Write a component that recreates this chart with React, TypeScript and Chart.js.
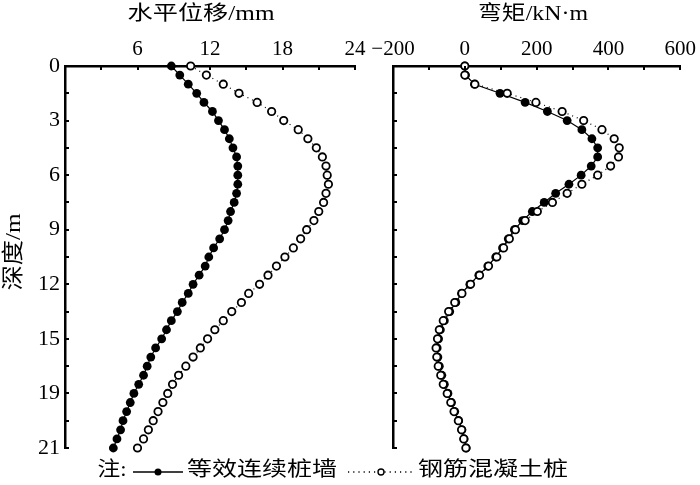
import React, { useEffect, useRef } from 'react';
import { Chart, registerables } from 'chart.js';
Chart.register(...registerables);

// ---------- data ----------
const depths = [0, 0.5, 1, 1.5, 2, 2.5, 3, 3.5, 4, 4.5, 5, 5.5, 6, 6.5, 7, 7.5, 8, 8.5, 9, 9.5, 10, 10.5, 11, 11.5, 12, 12.5, 13, 13.5, 14, 14.5, 15, 15.5, 16, 16.5, 17, 17.5, 18, 18.5, 19, 19.5, 20, 20.5, 21];

// 水平位移 (mm)
const dispWall = [8.8, 9.5, 10.2, 10.9, 11.5, 12.2, 12.7, 13.2, 13.6, 13.9, 14.2, 14.3, 14.3, 14.3, 14.2, 14.0, 13.7, 13.5, 13.2, 12.8, 12.3, 11.9, 11.6, 11.1, 10.6, 10.2, 9.7, 9.3, 8.8, 8.4, 8.0, 7.5, 7.1, 6.8, 6.5, 6.1, 5.7, 5.4, 5.1, 4.8, 4.6, 4.3, 4.0];
const dispPile = [10.4, 11.7, 13.1, 14.4, 15.9, 17.1, 18.1, 19.3, 20.1, 20.8, 21.3, 21.6, 21.7, 21.8, 21.6, 21.4, 21.0, 20.6, 20.0, 19.5, 18.9, 18.2, 17.5, 16.8, 16.1, 15.2, 14.6, 13.8, 13.1, 12.4, 11.8, 11.2, 10.6, 10.0, 9.4, 8.9, 8.5, 8.1, 7.7, 7.3, 6.9, 6.5, 6.0];

// 弯矩 (kN·m)
const momentWall = [0, 2, 27, 98, 168, 230, 285, 326, 354, 370, 370, 352, 324, 290, 253, 221, 188, 161, 138, 121, 105, 86, 64, 39, 14, -9, -25, -42, -57, -68, -73, -77, -75, -71, -64, -57, -47, -37, -28, -17, -8, -2, 4];
const momentPile = [0, 0, 28, 118, 198, 271, 331, 382, 416, 430, 428, 406, 370, 326, 285, 244, 202, 168, 141, 124, 108, 89, 66, 41, 16, -8, -28, -45, -60, -71, -76, -80, -78, -74, -67, -60, -49, -39, -30, -18, -9, -3, 3];

// ticks / labels
const depthTickValues = [0, 3, 6, 9, 12, 15, 18, 21];
const depthTickLabels = ['0', '3', '6', '9', '12', '15', '19', '21'];
const depthTickMarks = [1.5, 3, 4.5, 6, 7.5, 9, 10.5, 12, 13.5, 15, 16.5, 18, 19.5, 21];
const dispTickValues = [0, 6, 12, 18, 24];
const dispTickLabels = ['', '6', '12', '18', '24'];
const dispTickMarks = [3, 6, 9, 12, 15, 18, 21, 24];
const momentTickValues = [-200, 0, 200, 400, 600];
const momentTickLabels = ['\u2212200', '0', '200', '400', '600'];
const momentTickMarks = [-100, 0, 100, 200, 300, 400, 500, 600];

const dispTitle = '水平位移/mm';
const momentTitle = '弯矩/kN·m';
const depthTitle = '深度/m';
const noteText = '注:';
const seriesWall = '等效连续桩墙';
const seriesPile = '钢筋混凝土桩';

// ---------- helpers ----------
const FONT = "'Liberation Serif', 'Noto Sans CJK SC', serif";

function stretchedText(ctx: CanvasRenderingContext2D, text: string, cx: number, cy: number, width: number, size: number, rotate = false) {
  ctx.save();
  ctx.font = `${size}px ${FONT}`;
  const w = ctx.measureText(text).width;
  ctx.translate(cx, cy);
  if (rotate) ctx.rotate(-Math.PI / 2);
  ctx.scale(width / w, 1);
  ctx.fillStyle = '#000';
  ctx.textAlign = 'center';
  ctx.textBaseline = 'middle';
  ctx.fillText(text, 0, 0);
  ctx.restore();
}

function tickMarkPlugin(xMarks: number[], yMarks: number[]) {
  return {
    id: 'inwardTicks',
    afterDraw(chart: any) {
      const { ctx, chartArea, scales } = chart;
      ctx.save();
      ctx.strokeStyle = '#000';
      ctx.lineWidth = 2;
      xMarks.forEach((v) => {
        const px = Math.round(scales.x.getPixelForValue(v));
        ctx.beginPath();
        ctx.moveTo(px, chartArea.top);
        ctx.lineTo(px, chartArea.top + 4);
        ctx.stroke();
      });
      yMarks.forEach((v) => {
        const py = Math.round(scales.y.getPixelForValue(v));
        ctx.beginPath();
        ctx.moveTo(chartArea.left, py);
        ctx.lineTo(chartArea.left + 4, py);
        ctx.stroke();
      });
      ctx.restore();
    },
  };
}

const textPlugin = {
  id: 'texts',
  afterDraw(chart: any) {
    const ctx: CanvasRenderingContext2D = chart.ctx;
    stretchedText(ctx, dispTitle, 201, 15, 147, 20);
    stretchedText(ctx, momentTitle, 533, 15, 110, 20);
    stretchedText(ctx, depthTitle, 14, 252, 77, 22, true);
    // legend
    const ly = 471;
    stretchedText(ctx, noteText, 112, ly, 29, 20);
    stretchedText(ctx, seriesWall, 262, ly, 150, 20);
    stretchedText(ctx, seriesPile, 493, ly, 150, 20);
    ctx.save();
    ctx.strokeStyle = '#000';
    ctx.lineWidth = 1.3;
    ctx.beginPath();
    ctx.moveTo(133, ly + 1);
    ctx.lineTo(183, ly + 1);
    ctx.stroke();
    ctx.fillStyle = '#000';
    ctx.beginPath();
    ctx.arc(158, ly + 1, 3.5, 0, Math.PI * 2);
    ctx.fill();
    ctx.setLineDash([1.2, 4]);
    ctx.lineWidth = 1.3;
    ctx.beginPath();
    ctx.moveTo(348, ly + 1);
    ctx.lineTo(414, ly + 1);
    ctx.stroke();
    ctx.setLineDash([]);
    ctx.fillStyle = '#fff';
    ctx.lineWidth = 1.4;
    ctx.beginPath();
    ctx.arc(381, ly + 1, 3, 0, Math.PI * 2);
    ctx.fill();
    ctx.stroke();
    ctx.restore();
  },
};

function makeDatasets(wall: number[], pile: number[]) {
  return [
    {
      label: seriesWall,
      data: wall.map((v, i) => ({ x: v, y: depths[i] })),
      borderColor: '#000',
      borderWidth: 1.2,
      backgroundColor: '#000',
      pointBackgroundColor: '#000',
      pointBorderColor: '#000',
      pointRadius: 4.4,
      pointBorderWidth: 0,
      clip: false as any,
      order: 2,
    },
    {
      label: seriesPile,
      data: pile.map((v, i) => ({ x: v, y: depths[i] })),
      borderColor: '#000',
      borderWidth: 1.2,
      borderDash: [1, 4],
      backgroundColor: '#fff',
      pointBackgroundColor: '#fff',
      pointBorderColor: '#000',
      pointRadius: 3.7,
      pointBorderWidth: 1.8,
      clip: false as any,
      order: 1,
    },
  ];
}

function baseOptions(xMin: number, xMax: number, xStep: number, xVals: number[], xLabels: string[], showY: boolean, padding: any, yWidth: number) {
  return {
    responsive: false,
    animation: false as const,
    layout: { padding },
    plugins: { legend: { display: false }, tooltip: { enabled: false }, title: { display: false } },
    elements: { line: { tension: 0 } },
    scales: {
      x: {
        type: 'linear' as const,
        position: 'top' as const,
        min: xMin,
        max: xMax,
        afterFit: (s: any) => { s.height = 66; },
        grid: { display: false, drawTicks: false },
        border: { display: true, width: 2.5, color: '#000' },
        ticks: {
          stepSize: xStep,
          autoSkip: false,
          maxRotation: 0,
          padding: 4,
          color: '#000',
          font: { family: FONT, size: 21 },
          callback: (v: any) => {
            const i = xVals.indexOf(Number(v));
            return i >= 0 ? xLabels[i] : '';
          },
        },
      },
      y: {
        type: 'linear' as const,
        position: 'left' as const,
        reverse: true,
        min: 0,
        max: 21,
        afterFit: (s: any) => { s.width = yWidth; },
        grid: { display: false, drawTicks: false },
        border: { display: true, width: 2.5, color: '#000' },
        ticks: {
          display: showY,
          stepSize: 3,
          autoSkip: false,
          padding: 5,
          color: '#000',
          font: { family: FONT, size: 22 },
          callback: (v: any) => {
            const i = depthTickValues.indexOf(Number(v));
            return i >= 0 ? depthTickLabels[i] : '';
          },
        },
      },
    },
  };
}

export default function App() {
  const leftRef = useRef<HTMLCanvasElement>(null);
  const rightRef = useRef<HTMLCanvasElement>(null);

  useEffect(() => {
    const left = new Chart(leftRef.current!, {
      type: 'line',
      data: { datasets: makeDatasets(dispWall, dispPile) as any },
      options: baseOptions(0, 24, 6, dispTickValues, dispTickLabels, true, { left: 0, top: 0, right: 345, bottom: 37 }, 65) as any,
      plugins: [tickMarkPlugin(dispTickMarks, depthTickMarks), textPlugin],
    });
    const right = new Chart(rightRef.current!, {
      type: 'line',
      data: { datasets: makeDatasets(momentWall, momentPile) as any },
      options: baseOptions(-200, 600, 200, momentTickValues, momentTickLabels, false, { left: 393, top: 0, right: 18, bottom: 37 }, 0) as any,
      plugins: [tickMarkPlugin(momentTickMarks, depthTickMarks)],
    });
    return () => {
      left.destroy();
      right.destroy();
    };
  }, []);

  const cstyle: React.CSSProperties = { position: 'absolute', left: 0, top: 0, width: 700, height: 485 };
  return (
    <div style={{ position: 'fixed', left: 0, top: 0, width: 700, height: 485, background: '#fff' }}>
      <canvas ref={leftRef} width={700} height={485} style={cstyle} />
      <canvas ref={rightRef} width={700} height={485} style={cstyle} />
    </div>
  );
}
